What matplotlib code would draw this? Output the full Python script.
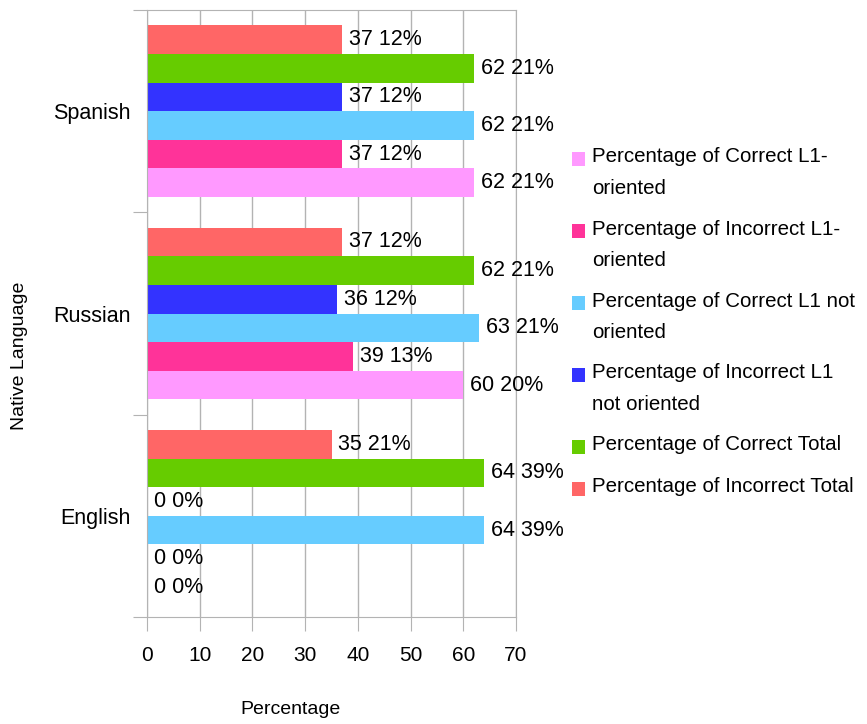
import matplotlib.pyplot as plt
from matplotlib.patches import Rectangle
import numpy as np

plt.rcParams['font.family'] = ['Liberation Sans', 'DejaVu Sans']

# Native languages, bottom to top
categories = ['English', 'Russian', 'Spanish']

series_names = [
    'Percentage of Correct L1-\noriented',
    'Percentage of Incorrect L1-\noriented',
    'Percentage of Correct L1 not\noriented',
    'Percentage of Incorrect L1\nnot oriented',
    'Percentage of Correct Total',
    'Percentage of Incorrect Total',
]
colors = ['#ff99ff', '#ff3399', '#66ccff', '#3333ff', '#66cc00', '#ff6666']

# counts per series (English, Russian, Spanish)
correct_l1 = [0, 60, 62]
incorrect_l1 = [0, 39, 37]
correct_not = [64, 63, 62]
incorrect_not = [0, 36, 37]
correct_total = [64, 62, 62]
incorrect_total = [35, 37, 37]

# share shown next to each count
pct_correct_l1 = [0, 20, 21]
pct_incorrect_l1 = [0, 13, 12]
pct_correct_not = [39, 21, 21]
pct_incorrect_not = [0, 12, 12]
pct_correct_total = [39, 21, 21]
pct_incorrect_total = [21, 12, 12]

values = [correct_l1, incorrect_l1, correct_not, incorrect_not, correct_total, incorrect_total]
percents = [pct_correct_l1, pct_incorrect_l1, pct_correct_not, pct_incorrect_not,
            pct_correct_total, pct_incorrect_total]

grid_gray = '#b3b3b3'
W, H = 867, 724

fig = plt.figure(figsize=(W / 100, H / 100), dpi=100)
ax = fig.add_axes([147 / W, 1 - 617 / H, 369 / W, 607 / H])

y = np.arange(len(categories))
n = len(series_names)
h = 0.85 / n

for i in range(n):
    pos = y + (i - (n - 1) / 2) * h
    bars = ax.barh(pos, values[i], height=h, color=colors[i], zorder=2)
    labels = [f'{v} {p}%' for v, p in zip(values[i], percents[i])]
    ax.bar_label(bars, labels=labels, padding=5, fontsize=15.5)

ax.set_xlim(0, 70)
ax.set_ylim(-0.5, len(categories) - 0.5)
ax.set_xticks(np.arange(0, 71, 10))
ax.xaxis.grid(True, color=grid_gray, linewidth=1, zorder=0)

# separators between groups as major ticks, names on minor ticks
ax.set_yticks(np.arange(-0.5, len(categories), 1))
ax.set_yticklabels([])
ax.set_yticks(y, minor=True)
ax.set_yticklabels(categories, minor=True)
ax.tick_params(axis='y', which='major', length=10, color=grid_gray)
ax.tick_params(axis='y', which='minor', length=0, pad=12, labelsize=15.5)
ax.tick_params(axis='x', length=10, color=grid_gray, pad=11, labelsize=15)

for s in ax.spines.values():
    s.set_color(grid_gray)

fig.text(291 / W, 1 - 709 / H, 'Percentage', ha='center', va='center', fontsize=14)
fig.text(20 / W, 1 - 356 / H, 'Native Language', ha='center', va='center',
         rotation=90, fontsize=14)

# legend: colour square beside the first line of each (wrapped) name
line_h = 30
gap = 12
cy = 159
for name, c in zip(series_names, colors):
    fig.add_artist(Rectangle((572 / W, 1 - (cy + 7) / H), 13 / W, 14 / H,
                             transform=fig.transFigure, facecolor=c, edgecolor='none'))
    fig.text(592 / W, 1 - (cy - 11.5) / H, name, ha='left', va='top',
             fontsize=14.8, linespacing=1.83)
    cy += line_h * name.count('\n') + line_h + gap

fig.savefig('out.png', dpi=100)
